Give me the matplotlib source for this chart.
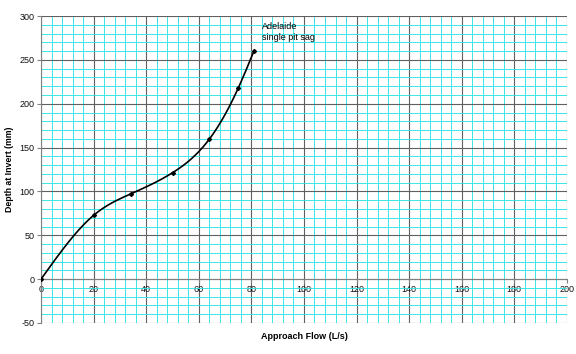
import matplotlib
matplotlib.use('Agg')
import matplotlib.pyplot as plt
import numpy as np

# approach flow (L/s) and depth at invert (mm)
flow = [0, 20.2, 34.1, 50.1, 64.0, 75.0, 81.0]
depth = [0, 73.3, 97.2, 121.5, 159.6, 217.8, 260.3]


def spline(xs, ys, n=400):
    # natural cubic spline through the points, to draw the smoothed line
    x = np.asarray(xs, float)
    y = np.asarray(ys, float)
    h = np.diff(x)
    m = len(x)
    A = np.zeros((m, m))
    b = np.zeros(m)
    A[0, 0] = A[-1, -1] = 1
    for i in range(1, m - 1):
        A[i, i - 1] = h[i - 1]
        A[i, i] = 2 * (h[i - 1] + h[i])
        A[i, i + 1] = h[i]
        b[i] = 6 * ((y[i + 1] - y[i]) / h[i] - (y[i] - y[i - 1]) / h[i - 1])
    M = np.linalg.solve(A, b)
    xx = np.linspace(x[0], x[-1], n)
    k = np.clip(np.searchsorted(x, xx) - 1, 0, m - 2)
    t0 = x[k + 1] - xx
    t1 = xx - x[k]
    yy = (M[k] * t0 ** 3 + M[k + 1] * t1 ** 3) / (6 * h[k]) \
        + (y[k] / h[k] - M[k] * h[k] / 6) * t0 \
        + (y[k + 1] / h[k] - M[k + 1] * h[k] / 6) * t1
    return xx, yy


plt.rcParams['font.family'] = ['Liberation Sans', 'DejaVu Sans']
plt.rcParams['axes.unicode_minus'] = False

fig = plt.figure(figsize=(5.76, 3.54), dpi=100)
ax = fig.add_axes([0.0712, 0.0876, 0.913, 0.867])

sx, sy = spline(flow, depth)
ax.plot(sx, sy, color='black', lw=1.2, zorder=3)
ax.plot(flow, depth, 'D', color='black', ms=2.0, zorder=4)

ax.set_xlim(0, 200)
ax.set_ylim(-50, 300)
ax.set_xticks(np.arange(0, 201, 20))
ax.set_yticks(np.arange(-50, 301, 50))
ax.set_xticks(np.arange(0, 201, 4), minor=True)
ax.set_yticks(np.arange(-50, 301, 10), minor=True)

ax.grid(which='minor', color='#30e4e4', lw=0.65, zorder=0)
ax.grid(which='major', color='#606060', lw=0.8, zorder=1)
ax.set_axisbelow(True)

ax.spines['bottom'].set_position(('data', 0))
ax.spines['top'].set_visible(False)
ax.spines['right'].set_visible(False)
ax.spines['left'].set_color('#808080')
ax.spines['bottom'].set_color('#808080')

ax.tick_params(which='minor', length=0)
ax.tick_params(which='major', length=3, width=0.8, color='#808080',
               labelsize=6.5, labelcolor='#111111', pad=1.5)

ax.text(84, 293, 'Adelaide\nsingle pit sag', fontsize=6.5, va='top', ha='left')

fig.text(0.528, 0.05, 'Approach Flow (L/s)', fontsize=6.5, fontweight='bold',
         ha='center', va='center')
ax.set_ylabel('Depth at Invert (mm)', fontsize=6.3, fontweight='bold', labelpad=4)

fig.savefig('out.png', dpi=100, facecolor='white')
